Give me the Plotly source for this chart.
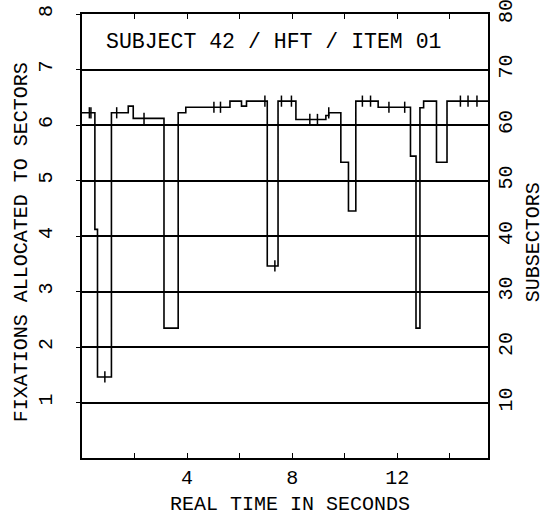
import plotly.graph_objects as go

# Step trace: time (s) where each level starts, and level (sectors)
step_time = [0.00, 0.49, 0.59, 1.12, 1.76, 1.95, 3.12, 3.66, 3.95, 5.63, 6.07, 6.26,
             7.05, 7.46, 8.14, 9.28, 9.39, 9.85, 10.14, 10.42, 11.27, 12.50, 12.71,
             12.86, 13.00, 13.49, 13.89, 15.45]
step_level = [6.22, 4.12, 1.46, 6.22, 6.34, 6.12, 2.34, 6.22, 6.32, 6.43, 6.34, 6.43,
              3.46, 6.43, 6.10, 6.17, 6.22, 5.33, 4.45, 6.43, 6.32, 5.44, 2.34,
              6.31, 6.43, 5.33, 6.43, 6.43]

# Fixation tick marks on the trace
mark_time = [0.28, 0.34, 0.87, 1.32, 2.36, 5.02, 5.27, 6.96, 7.34, 7.59, 7.97, 8.67,
             8.96, 9.39, 10.67, 10.98, 11.68, 12.28, 14.40, 14.69, 15.03]
mark_level = [6.22, 6.22, 1.46, 6.22, 6.12, 6.32, 6.32, 6.43, 3.46, 6.43, 6.43, 6.10,
              6.10, 6.22, 6.43, 6.43, 6.32, 6.32, 6.43, 6.43, 6.43]

x_tickvals = [2, 4, 6, 8, 10, 12, 14]
x_ticktext = ["", "4", "", "8", "", "12", ""]
y_tickvals = [1, 2, 3, 4, 5, 6, 7, 8]
y2_tickvals = [10, 20, 30, 40, 50, 60, 70, 80]

title_text = "SUBJECT 42 / HFT / ITEM 01"
x_title = "REAL TIME IN SECONDS"
y_title = "FIXATIONS ALLOCATED TO SECTORS"
y2_title = "SUBSECTORS"

FONT = "Liberation Mono"
tf = dict(family=FONT, size=20, color="black")

fig = go.Figure()
fig.add_trace(go.Scatter(x=step_time, y=step_level, mode="lines",
                         line=dict(color="black", width=1.6, shape="hv"),
                         showlegend=False, hoverinfo="skip"))
fig.add_trace(go.Scatter(x=mark_time, y=mark_level, mode="markers",
                         marker=dict(symbol="line-ns", size=8,
                                     line=dict(color="black", width=1.5)),
                         showlegend=False, hoverinfo="skip"))
fig.add_trace(go.Scatter(x=[0], y=[0], yaxis="y2", mode="markers",
                         marker=dict(opacity=0), showlegend=False, hoverinfo="skip"))

fig.add_annotation(x=7.3, y=7.5, xref="x", yref="y", text=title_text,
                   showarrow=False, font=dict(family=FONT, size=21.5, color="black"))
fig.add_annotation(x=0.512, y=-0.104, xref="paper", yref="paper", text=x_title,
                   showarrow=False, font=tf, xanchor="center", yanchor="middle")
fig.add_annotation(x=-0.150, y=0.486, xref="paper", yref="paper", text=y_title,
                   showarrow=False, font=tf, textangle=-90,
                   xanchor="center", yanchor="middle")
fig.add_annotation(x=1.111, y=0.486, xref="paper", yref="paper", text=y2_title,
                   showarrow=False, font=tf, textangle=-90,
                   xanchor="center", yanchor="middle")

fig.update_layout(
    width=551, height=517,
    margin=dict(l=82, r=63, t=14, b=59, autoexpand=False),
    paper_bgcolor="white", plot_bgcolor="white",
    font=tf,
    xaxis=dict(range=[0, 15.45], showgrid=False, zeroline=False, automargin=False,
               showline=True, linecolor="black", linewidth=1.5, mirror="ticks",
               ticks="inside", ticklen=5, tickwidth=1.2, tickcolor="black",
               tickvals=x_tickvals, ticktext=x_ticktext,
               tickfont=tf, ticklabelstandoff=0, ticklabeloverflow="allow"),
    yaxis=dict(range=[0, 8], showgrid=True, gridcolor="black", gridwidth=1.5,
               zeroline=False, showline=True, linecolor="black", linewidth=1.5,
               automargin=False, mirror=False, ticks="outside", ticklen=4,
               tickwidth=1.2, tickcolor="black", tickvals=y_tickvals, tickangle=-90,
               tickfont=tf, ticklabelstandoff=16, ticklabeloverflow="allow"),
    yaxis2=dict(range=[0, 80], overlaying="y", side="right", showgrid=False,
                zeroline=False, showline=True, linecolor="black", linewidth=1.5,
                automargin=False, ticks="", tickvals=y2_tickvals, tickangle=-90,
                tickfont=tf, ticklabelstandoff=-2, ticklabeloverflow="allow"),
)

fig.write_html("out.html", config={"displayModeBar": False})

# remove the default page margin so the figure sits at the window's top-left corner
with open("out.html", "r", encoding="utf-8") as f:
    html = f.read()
html = html.replace("<body>", '<body style="margin:0;padding:0;overflow:hidden">', 1)
with open("out.html", "w", encoding="utf-8") as f:
    f.write(html)
